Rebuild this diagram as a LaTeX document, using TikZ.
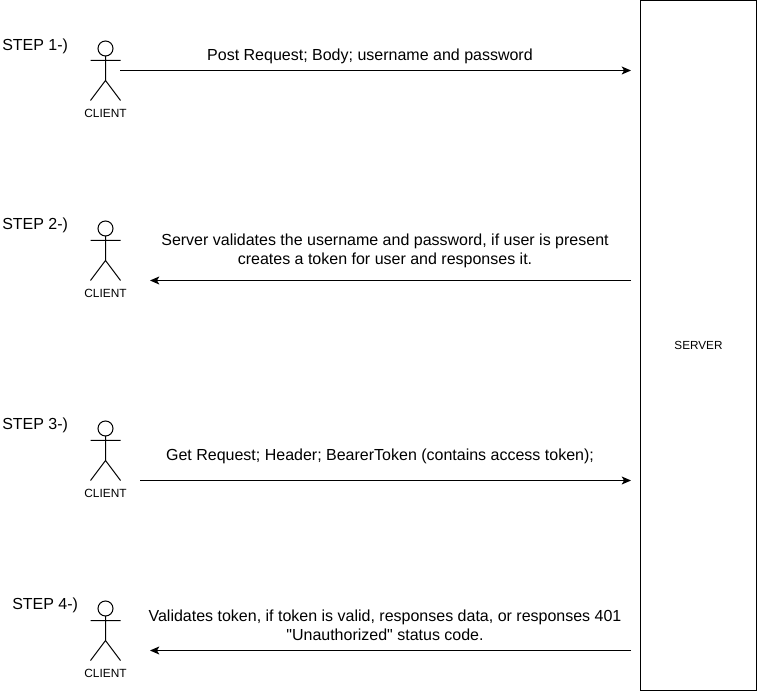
\documentclass[tikz,border=0pt]{standalone}
\usepackage{fontspec}
\setmainfont{Liberation Sans}
\newfontfamily\straightq{Liberation Sans}
\usetikzlibrary{arrows.meta}
\tikzset{
  x=0.75pt,y=-0.75pt,
  px/.style={line width=0.75pt,black},
  flow/.style={px,-{Stealth[length=7pt,width=6pt,inset=1.8pt]}},
  serverbox/.style={draw,px,fill=white,minimum width=87pt,minimum height=517.5pt,inner sep=0pt,outer sep=0pt,anchor=north west,font=\fontsize{8.8}{10}\selectfont},
  msg/.style={align=center,inner sep=0pt,font=\fontsize{12}{14.4}\selectfont},
  steplabel/.style={inner sep=0pt,anchor=base west,font=\fontsize{12}{14}\selectfont},
  clientlabel/.style={inner sep=0pt,font=\fontsize{8.9}{10}\selectfont},
  stick/.pic={
    \draw[px] (0,-12) circle[radius=7.5];
    \draw[px] (0,-4.5) -- (0,20) (-15,0) -- (15,0) (-15,40) -- (0,20) -- (15,40);
  }
}
\begin{document}
\begin{tikzpicture}
\useasboundingbox (0,0) rectangle (757,691);
\node[serverbox] (server) at (640.5,0.5) {SERVER};
\path (105.5,60.5) pic {stick};
\path (105.5,240.5) pic {stick};
\path (105.5,440.5) pic {stick};
\path (105.5,620.5) pic {stick};
\node[clientlabel] (c1) at (105.5,113.7) {CLIENT};
\node[clientlabel] (c2) at (105.5,293.7) {CLIENT};
\node[clientlabel] (c3) at (105.5,493.7) {CLIENT};
\node[clientlabel] (c4) at (105.5,673.7) {CLIENT};
\node[steplabel] (s1) at (2,50.5) {STEP 1-)};
\node[steplabel] (s2) at (2,229.5) {STEP 2-)};
\node[steplabel] (s3) at (2,430) {STEP 3-)};
\node[steplabel] (s4) at (12,609.5) {STEP 4-)};
\node[msg] (m1) at (370,56) {Post Request; Body; username and password};
\node[msg] (m2) at (385,251) {Server validates the username and password, if user is present\\creates a token for user and responses it.};
\node[msg] (m3) at (380,456) {Get Request; Header; BearerToken (contains access token);};
\node[msg] (m4) at (385,625) {Validates token, if token is valid, responses data, or responses 401\\{\straightq "}Unauthorized{\straightq "} status code.};
\coordinate (a1) at (120,70.5);
\coordinate (b1) at (631,70.5);
\coordinate (a2) at (631,280.5);
\coordinate (b2) at (150,280.5);
\coordinate (a3) at (140,480.5);
\coordinate (b3) at (631,480.5);
\coordinate (a4) at (631,650.5);
\coordinate (b4) at (150,650.5);
\draw[flow] (a1) -- (b1);
\draw[flow] (a2) -- (b2);
\draw[flow] (a3) -- (b3);
\draw[flow] (a4) -- (b4);
\end{tikzpicture}
\end{document}
